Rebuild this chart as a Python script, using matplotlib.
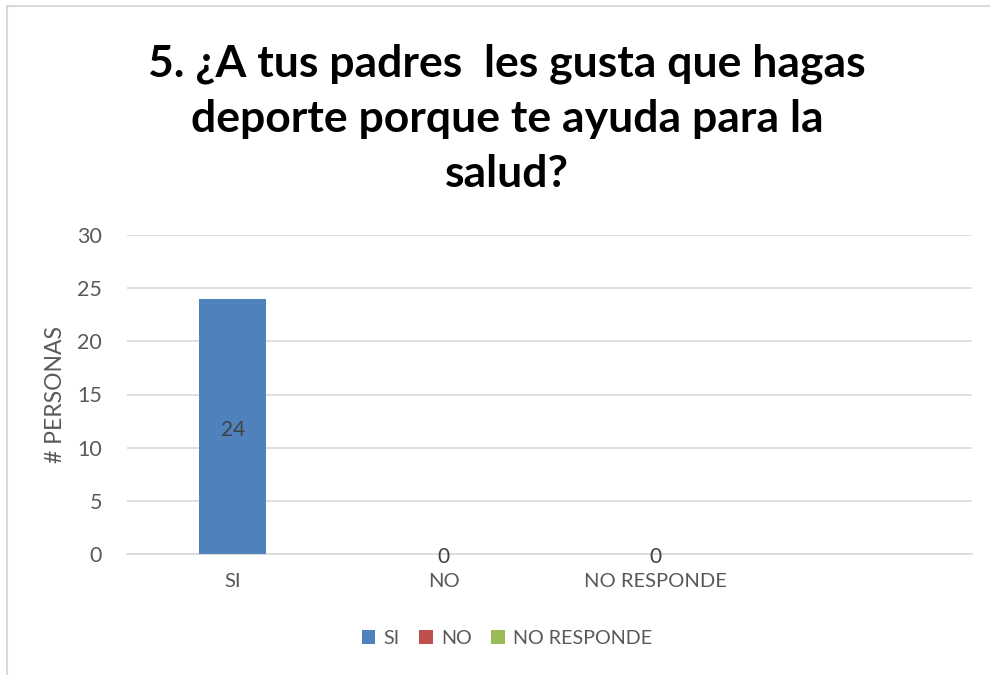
import matplotlib
matplotlib.use("Agg")
import matplotlib.pyplot as plt
from matplotlib.patches import Patch
from matplotlib.lines import Line2D

categories = ["SI", "NO", "NO RESPONDE", ""]
values = [24, 0, 0, None]
colors = ["#4F81BD", "#C0504D", "#9BBB59"]
legend_labels = ["SI", "NO", "NO RESPONDE"]
yticks = [0, 5, 10, 15, 20, 25, 30]
title = "5. ¿A tus padres  les gusta que hagas\ndeporte porque te ayuda para la\nsalud?"
ylabel = "# PERSONAS"

plt.rcParams['font.family'] = ['Lato', 'DejaVu Sans']
txt = "#595959"

fig = plt.figure(figsize=(9.9, 6.75), dpi=100)
ax = fig.add_axes([127/990, 1-554/675, 845/990, (554-235)/675])

xs = list(range(len(categories)))
for i, v in enumerate(values):
    if v is None:
        continue
    ax.bar(i, v, width=0.317, color=colors[i], zorder=3)
    ax.text(i, v/2 - 0.3, str(v), ha="center", va="center", fontsize=15, color="#404040", zorder=4)

ax.set_xlim(-0.5, len(categories)-0.5)
ax.set_ylim(0, 30)
ax.set_yticks(yticks)
ax.set_xticks(xs[:3])
ax.set_xticklabels(categories[:3], fontsize=14.5, color=txt)
ax.tick_params(axis="y", labelsize=15.5, labelcolor=txt, length=0, pad=18)
ax.tick_params(axis="x", length=0, pad=14)
ax.grid(axis="y", color="#D9D9D9", linewidth=1.2, zorder=0)
for s in ["top", "right", "left"]:
    ax.spines[s].set_visible(False)
ax.spines["bottom"].set_color("#D9D9D9")
ax.spines["bottom"].set_linewidth(1.2)
ax.set_ylabel(ylabel, fontsize=16.5, color=txt, labelpad=8)

fig.text(0.512, 1-119/675, title, ha="center", va="center", fontsize=32,
         fontweight="bold", color="black", linespacing=1.45)

handles = [Patch(facecolor=c, edgecolor="none") for c in colors]
leg = fig.legend(handles, legend_labels, loc="center", bbox_to_anchor=(0.512, 1-638/675),
                 ncol=3, frameon=False, fontsize=14.2, handlelength=0.7, handleheight=0.7,
                 handletextpad=0.4, columnspacing=1.0)
for t in leg.get_texts():
    t.set_color(txt)

# chart border (left and top)
fig.add_artist(Line2D([7/990, 7/990], [0, 1-6/675], color="#D9D9D9", lw=1.5))
fig.add_artist(Line2D([7/990, 1], [1-6/675, 1-6/675], color="#D9D9D9", lw=1.5))

fig.savefig("out.png", dpi=100)
